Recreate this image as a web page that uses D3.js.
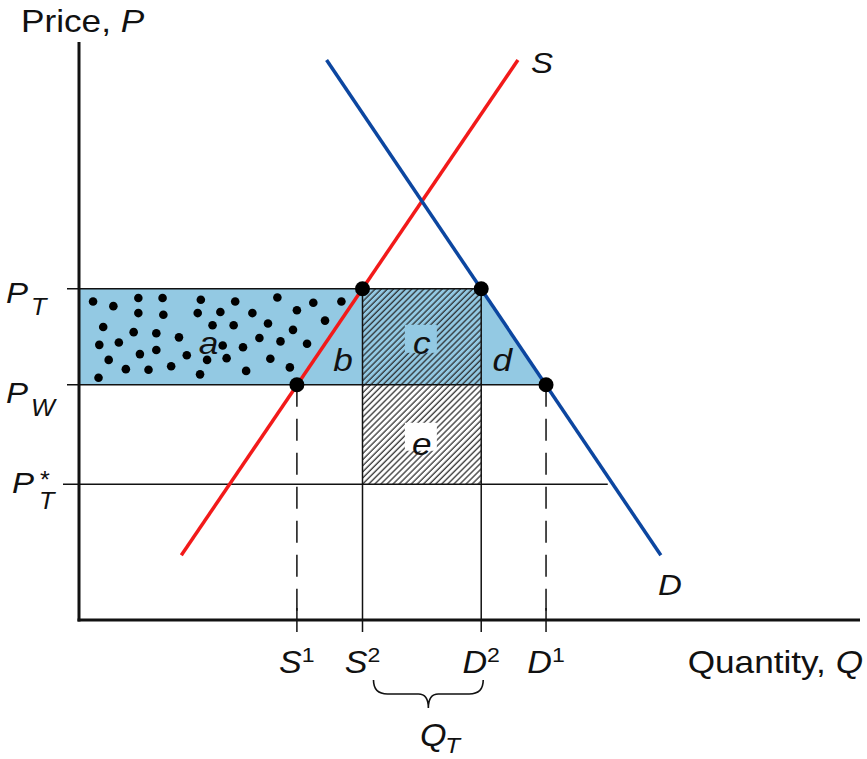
<!DOCTYPE html>
<html>
<head>
<meta charset="utf-8">
<script src="https://cdn.jsdelivr.net/npm/d3@7"></script>
<style>
  body { margin: 0; background: #fff; }
  text { font-family: "Liberation Sans", Arial, sans-serif; fill: #111; }
</style>
</head>
<body>
<div id="chart"></div>
<script>
const width = 867
const height = 759

// price levels (abstract units 0-100)
const priceNames = ["PT", "PW", "PTstar"]
const priceValues = [57.3, 40.7, 23.5]

// quantities on the x axis
const qtyNames = ["S1", "S2", "D2", "D1"]
const qtyValues = [27.9, 36.3, 51.5, 59.8]

// supply and demand lines (end points)
const supplyLine = [[13.1, 11.2], [56.2, 96.9]]
const demandLine = [[31.7, 96.9], [74.5, 11.2]]

// how far the P_T* line runs
const ptStarEnd = 67.7

// scatter dots inside area a
const dotsA = [
  [1.8, 55.1], [4.4, 54.3], [7.6, 55.7], [10.7, 55.7], [15.6, 55.4], [20.0, 55.1], [25.4, 55.8], [30.0, 54.9], [33.6, 55.1],
  [7.6, 53.1], [10.8, 52.8], [15.2, 53.1], [18.1, 53.3], [22.2, 53.1], [27.9, 53.6],
  [3.1, 50.7], [7.0, 49.8], [9.9, 49.6], [17.1, 51.0], [19.8, 51.0], [24.2, 51.3], [27.4, 50.2], [31.5, 51.8],
  [2.6, 47.6], [5.1, 48.0], [12.8, 48.9], [18.4, 47.5], [21.0, 47.2], [23.1, 48.8], [25.8, 48.2], [29.2, 47.8],
  [7.8, 46.0], [9.9, 46.7], [13.8, 45.8], [16.4, 45.0], [18.9, 45.3], [24.5, 45.2],
  [3.8, 45.0], [6.0, 43.4], [8.9, 43.3], [11.8, 43.9], [21.4, 43.1], [27.0, 43.7],
  [2.5, 41.9], [15.5, 42.5]
]

const P = {}
priceNames.forEach((n, i) => P[n] = priceValues[i])
const Q = {}
qtyNames.forEach((n, i) => Q[n] = qtyValues[i])

const x = d3.scaleLinear().domain([0, 100]).range([79, 860])
const y = d3.scaleLinear().domain([0, 100]).range([620, 42])

const blue = "#93c9e3"
const svg = d3.select("#chart").append("svg")
  .attr("width", width)
  .attr("height", height)

// text helper: the source type is a little wide, so stretch it horizontally
function txt(px, py, size, anchor, parts) {
  const t = svg.append("text")
    .attr("transform", `translate(${px},${py}) scale(1.1,1)`)
    .attr("text-anchor", anchor)
    .style("font-size", size + "px")
  parts.forEach(p => {
    const s = t.append("tspan").text(p.t)
    if (p.i) s.style("font-style", "italic")
    if (p.dy) s.attr("dy", p.dy)
    if (p.size) s.style("font-size", p.size + "px")
  })
  return t
}

const defs = svg.append("defs")
const hatch = defs.append("pattern")
  .attr("id", "hatch")
  .attr("patternUnits", "userSpaceOnUse")
  .attr("width", 4.3)
  .attr("height", 10)
  .attr("patternTransform", "rotate(45)")
hatch.append("line")
  .attr("x1", 1).attr("y1", 0).attr("x2", 1).attr("y2", 10)
  .attr("stroke", "#222").attr("stroke-width", 1.2)

// blue area a+b+c+d
const area = [[0, P.PT], [Q.D2, P.PT], [Q.D1, P.PW], [0, P.PW]]
svg.append("path")
  .attr("d", d3.line().x(d => x(d[0])).y(d => y(d[1]))(area) + "Z")
  .attr("fill", blue)

// hatched rectangle c+e
svg.append("rect")
  .attr("x", x(Q.S2)).attr("y", y(P.PT))
  .attr("width", x(Q.D2) - x(Q.S2))
  .attr("height", y(P.PTstar) - y(P.PT))
  .attr("fill", "url(#hatch)")

// knock-outs behind c and e
const midQ = (Q.S2 + Q.D2) / 2
svg.append("rect")
  .attr("x", x(midQ) - 17).attr("y", y(P.PT) + 36)
  .attr("width", 32).attr("height", 28)
  .attr("fill", blue)
svg.append("rect")
  .attr("x", x(midQ) - 17).attr("y", y(P.PW) + 38)
  .attr("width", 32).attr("height", 28)
  .attr("fill", "#fff")

// thin guide lines
const thin = svg.append("g").attr("stroke", "#111").attr("stroke-width", 1.5)
thin.append("line").attr("x1", x(0) - 12).attr("x2", x(Q.D2)).attr("y1", y(P.PT)).attr("y2", y(P.PT))
thin.append("line").attr("x1", x(0) - 12).attr("x2", x(Q.D1)).attr("y1", y(P.PW)).attr("y2", y(P.PW))
thin.append("line").attr("x1", x(0) - 16).attr("x2", x(ptStarEnd)).attr("y1", y(P.PTstar)).attr("y2", y(P.PTstar))
;["S2", "D2"].forEach(k => {
  thin.append("line").attr("x1", x(Q[k])).attr("x2", x(Q[k])).attr("y1", y(P.PT)).attr("y2", y(0) + 12)
})
;["S1", "D1"].forEach(k => {
  thin.append("line").attr("x1", x(Q[k])).attr("x2", x(Q[k])).attr("y1", y(P.PW)).attr("y2", y(0))
    .attr("stroke-dasharray", "22,12")
  thin.append("line").attr("x1", x(Q[k])).attr("x2", x(Q[k])).attr("y1", y(0) - 12).attr("y2", y(0) + 12)
})

// axes
svg.append("line")
  .attr("x1", x(0)).attr("x2", x(0)).attr("y1", y(100)).attr("y2", y(0) + 1.5)
  .attr("stroke", "#111").attr("stroke-width", 3)
svg.append("line")
  .attr("x1", x(0) - 1.5).attr("x2", x(100)).attr("y1", y(0)).attr("y2", y(0))
  .attr("stroke", "#111").attr("stroke-width", 3)

// supply and demand
const line = d3.line().x(d => x(d[0])).y(d => y(d[1]))
svg.append("path").attr("d", line(supplyLine))
  .attr("stroke", "#f21a1a").attr("stroke-width", 3.5).attr("fill", "none")
svg.append("path").attr("d", line(demandLine))
  .attr("stroke", "#0c46a0").attr("stroke-width", 3.5).attr("fill", "none")

// dots in area a
svg.selectAll(".dotA")
  .data(dotsA)
  .enter()
  .append("circle")
  .classed("dotA", true)
  .attr("cx", d => x(d[0]))
  .attr("cy", d => y(d[1]))
  .attr("r", 4.3)
  .attr("fill", "#000")

// equilibrium points
const bigDots = [[Q.S1, P.PW], [Q.S2, P.PT], [Q.D2, P.PT], [Q.D1, P.PW]]
svg.selectAll(".big")
  .data(bigDots)
  .enter()
  .append("circle")
  .attr("cx", d => x(d[0]))
  .attr("cy", d => y(d[1]))
  .attr("r", 7.5)
  .attr("fill", "#000")

// axis titles
txt(21, 32, 32, "start", [{t: "Price, "}, {t: "P", i: true}])
txt(863, 673, 32, "end", [{t: "Quantity, "}, {t: "Q", i: true}])

// curve labels
txt(531, 73, 30, "start", [{t: "S", i: true}])
txt(658, 595, 30, "start", [{t: "D", i: true}])

// price labels
txt(6, y(P.PT) + 14, 30, "start", [{t: "P", i: true}])
txt(31, y(P.PT) + 26, 23, "start", [{t: "T", i: true}])
txt(6, y(P.PW) + 18, 30, "start", [{t: "P", i: true}])
txt(31, y(P.PW) + 31, 23, "start", [{t: "W", i: true}])
txt(12, y(P.PTstar) + 9, 30, "start", [{t: "P", i: true}])
txt(39, y(P.PTstar) + 25, 23, "start", [{t: "T", i: true}])
txt(40, y(P.PTstar) + 4, 23, "start", [{t: "*"}])

// area labels
const areaLabels = [
  ["a", 16.6, (P.PT + P.PW) / 2 - 3],
  ["b", 33.8, P.PW + 2.4],
  ["c", midQ, (P.PT + P.PW) / 2 - 3],
  ["d", 54.2, P.PW + 2.4],
  ["e", midQ, (P.PW + P.PTstar) / 2 - 3.5]
]
areaLabels.forEach(d => txt(x(d[1]), y(d[2]), 32, "middle", [{t: d[0], i: true}]))

// quantity labels
const qLabels = [["S", "1", Q.S1], ["S", "2", Q.S2], ["D", "2", Q.D2], ["D", "1", Q.D1]]
qLabels.forEach(d => {
  txt(x(d[2]), 673, 31, "middle", [{t: d[0], i: true}, {t: d[1], dy: -11, size: 21}])
})

// brace under S2..D2
const bx0 = x(Q.S2) + 11, bx1 = x(Q.D2) + 2, bm = (bx0 + bx1) / 2
svg.append("path")
  .attr("d", `M${bx0},680 Q${bx0},694 ${bx0 + 14},694 L${bm - 10},694 Q${bm},694 ${bm},708 Q${bm},694 ${bm + 10},694 L${bx1 - 14},694 Q${bx1},694 ${bx1},680`)
  .attr("fill", "none").attr("stroke", "#111").attr("stroke-width", 1.6)

txt(bm + 5, 746, 31, "middle", [{t: "Q", i: true}])
txt(bm + 17, 753, 22, "start", [{t: "T", i: true}])
</script>
</body>
</html>
